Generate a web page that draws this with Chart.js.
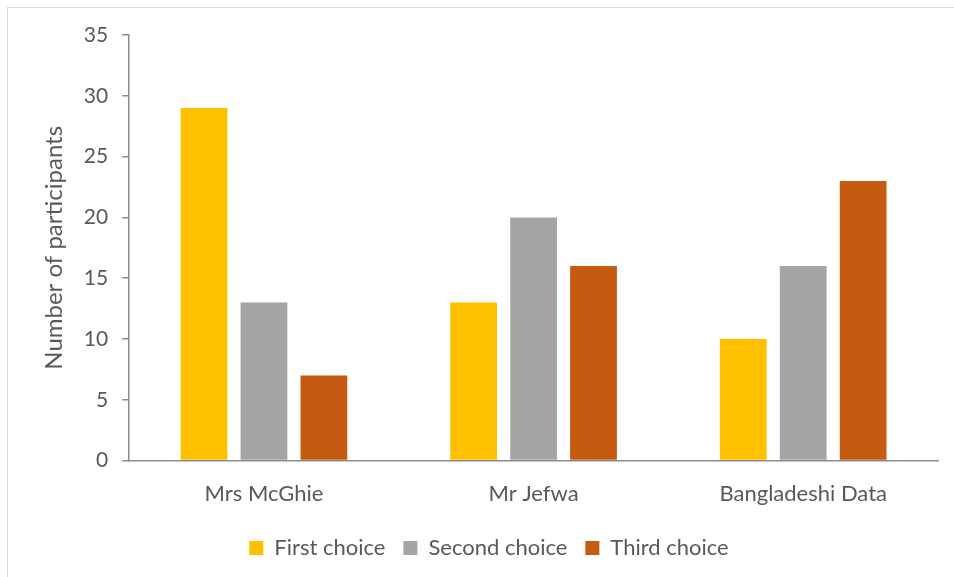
<!DOCTYPE html>
<html>
<head>
<meta charset="utf-8">
<script src="https://cdn.jsdelivr.net/npm/chart.js@4.4.0/dist/chart.umd.min.js"></script>
<style>
  html, body { margin: 0; padding: 0; background: #fff; }
  #wrap { position: relative; width: 954px; height: 577px; overflow: hidden; }
  #frame { position: absolute; left: 7px; top: 7px; width: 1000px; height: 1000px;
           border-left: 1.5px solid #d9d9d9; border-top: 1.5px solid #d9d9d9; box-sizing: border-box; }
  canvas { position: absolute; left: 0; top: 0; }
</style>
</head>
<body>
<div id="wrap">
  <div id="frame"></div>
  <canvas id="c" width="954" height="577"></canvas>
</div>
<script>
const categories = ["Mrs McGhie", "Mr Jefwa", "Bangladeshi Data"];
const seriesNames = ["First choice", "Second choice", "Third choice"];
const firstChoice = [29, 13, 10];
const secondChoice = [13, 20, 16];
const thirdChoice = [7, 16, 23];
const yTicks = [0, 5, 10, 15, 20, 25, 30, 35];
const colors = ["#FFC000", "#A5A5A5", "#C55A11"];

const FONT = "Lato, 'Open Sans', sans-serif";
const TEXT = "#595959";
const AXIS = "#8c8c8c";

new Chart(document.getElementById("c"), {
  type: "bar",
  data: {
    labels: categories,
    datasets: [firstChoice, secondChoice, thirdChoice].map((d, i) => ({
      label: seriesNames[i],
      data: d,
      backgroundColor: colors[i],
      borderWidth: 0,
      categoryPercentage: 0.667,
      barPercentage: 0.78
    }))
  },
  options: {
    responsive: false,
    animation: false,
    devicePixelRatio: 1,
    layout: { padding: { left: 40, right: 16, top: 35, bottom: 8 } },
    plugins: {
      tooltip: { enabled: false },
      legend: {
        position: "bottom",
        labels: {
          font: { family: FONT, size: 22 },
          color: TEXT,
          boxWidth: 14,
          boxHeight: 14,
          padding: 18
        }
      }
    },
    scales: {
      x: {
        grid: { display: false },
        border: { display: true, color: AXIS, width: 1.5 },
        ticks: { font: { family: FONT, size: 22 }, color: TEXT, padding: 12 }
      },
      y: {
        min: 0,
        max: 35,
        afterBuildTicks: (s) => { s.ticks = yTicks.map(v => ({ value: v })); },
        grid: { drawOnChartArea: false, drawTicks: true, tickLength: 7, color: AXIS, lineWidth: 1.5 },
        border: { display: true, color: AXIS, width: 1.5 },
        ticks: { font: { family: FONT, size: 21 }, color: TEXT, padding: 14 },
        title: {
          display: true,
          text: "Number of participants",
          font: { family: FONT, size: 24 },
          color: TEXT,
          padding: { top: 0, bottom: 1 }
        }
      }
    }
  }
});
</script>
</body>
</html>
